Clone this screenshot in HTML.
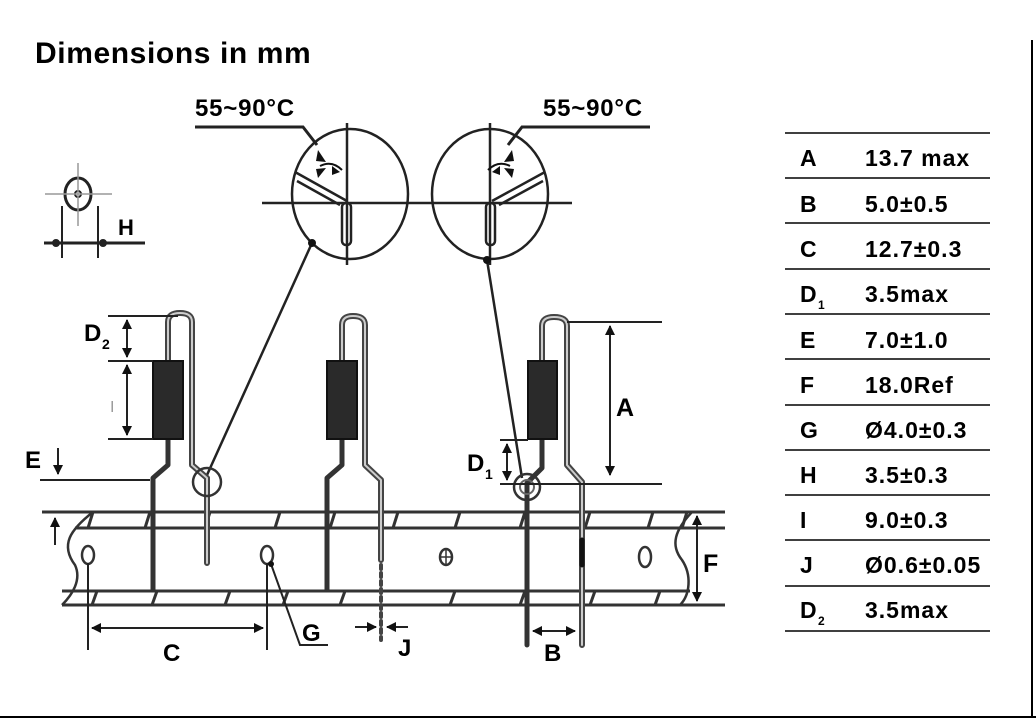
<!DOCTYPE html>
<html><head><meta charset="utf-8"><style>
html,body{margin:0;padding:0;background:#fff;}
svg{display:block}
text{font-family:"Liberation Sans",Arial,sans-serif;font-weight:bold;fill:#000}
</style></head><body>
<svg width="1036" height="720" viewBox="0 0 1036 720" xmlns="http://www.w3.org/2000/svg">
<defs>
<marker id="ar" viewBox="0 0 10 10" refX="9" refY="5" markerWidth="5" markerHeight="5" orient="auto-start-reverse"><path d="M0,0 L10,5 L0,10 z" fill="#111"/></marker>
</defs>
<text x="35" y="63" font-size="30" letter-spacing="0.6">Dimensions in mm</text>
<line x1="1032" y1="40" x2="1032" y2="718" stroke="#000" stroke-width="2"/>
<line x1="0" y1="717" x2="1036" y2="717" stroke="#000" stroke-width="2"/>

<g stroke="#222" fill="none" stroke-width="2">
<ellipse cx="78" cy="194" rx="13" ry="16" stroke-width="3"/>
<circle cx="78" cy="194" r="3"/>
<line x1="45" y1="194" x2="112" y2="194" stroke="#999" stroke-width="1.5"/>
<line x1="78" y1="163" x2="78" y2="226" stroke="#999" stroke-width="1.5"/>
<line x1="62" y1="206" x2="62" y2="258"/>
<line x1="98" y1="206" x2="98" y2="258"/>
<line x1="44" y1="243" x2="145" y2="243" stroke-width="3"/>
<circle cx="56" cy="243" r="3" fill="#222"/><circle cx="103" cy="243" r="3" fill="#222"/>
</g>
<text x="118" y="235" font-size="22">H</text>

<text x="195" y="116" font-size="24" letter-spacing="0.8">55~90°C</text>
<text x="543" y="116" font-size="24" letter-spacing="0.8">55~90°C</text>
<g stroke="#222" fill="none" stroke-width="2.5">
<polyline points="195,127 303,127 317,145" stroke-width="3"/>
<polyline points="650,127 522,127 508,145" stroke-width="3"/>
<ellipse cx="350" cy="194" rx="58" ry="65"/>
<ellipse cx="490" cy="194" rx="58" ry="65"/>
<line x1="262" y1="203" x2="572" y2="203"/>
<line x1="347" y1="123" x2="347" y2="265"/>
<line x1="490" y1="123" x2="490" y2="265"/>
<path d="M295,172 L347,201 M297,181 L340,205" stroke-width="2.5"/>
<rect x="342" y="203" width="9" height="42" rx="4" stroke-width="2.5"/>
<path d="M545,172 L492,201 M543,181 L499,205" stroke-width="2.5"/>
<rect x="486" y="203" width="9" height="42" rx="4" stroke-width="2.5"/>
<line x1="312" y1="243" x2="207" y2="475"/>
<line x1="487" y1="260" x2="522" y2="478"/>
</g>
<g fill="#111">
<circle cx="312" cy="243" r="4"/><circle cx="487" cy="260" r="4"/>
<path d="M318,150 l8,12 -10,-1z"/><path d="M340,172 l-8,-6 0,9z"/><path d="M318,178 l8,-10 -10,1z"/>
<path d="M512,150 l-8,12 10,-1z"/><path d="M492,172 l8,-6 0,9z"/><path d="M512,178 l-8,-10 10,1z"/>
</g>
<g stroke="#111" fill="none" stroke-width="2">
<path d="M320,166 q12,-6 22,4"/><path d="M510,166 q-12,-6 -22,4"/>
</g>

<g stroke="#333" fill="none" stroke-width="3">
<line x1="42" y1="512" x2="725" y2="512"/>
<line x1="75" y1="528" x2="725" y2="528"/>
<line x1="62" y1="591" x2="690" y2="591"/>
<line x1="62" y1="605" x2="725" y2="605"/>
<path d="M93,512 C70,530 60,545 75,565 C82,580 72,595 62,605" stroke-width="2.5"/>
<path d="M692,512 C675,530 670,545 682,560 C692,575 690,595 680,605" stroke-width="2.5"/>
<g stroke-width="3">
<path d="M88,528 l5,-16 M145,528 l5,-16 M205,528 l5,-16 M275,528 l5,-16 M330,528 l5,-16 M393,528 l5,-16 M455,528 l5,-16 M520,528 l5,-16 M585,528 l5,-16 M648,528 l5,-16 M682,528 l5,-16"/>
<path d="M92,605 l5,-14 M152,605 l5,-14 M225,605 l5,-14 M283,605 l5,-14 M340,605 l5,-14 M450,605 l5,-14 M520,605 l5,-14 M590,605 l5,-14 M655,605 l5,-14"/>
</g>
<ellipse cx="88" cy="555" rx="6" ry="9" stroke-width="2.5"/>
<ellipse cx="267" cy="555" rx="6" ry="9" stroke-width="2.5"/>
<ellipse cx="645" cy="557" rx="6" ry="10" stroke-width="2.5"/>
<ellipse cx="446" cy="557" rx="6" ry="8" stroke-width="2.5"/>
<path d="M440,557 h12 M446,550 v14" stroke-width="1.5"/>
</g>
<g stroke="#222" fill="none" stroke-width="2">
<line x1="88" y1="563" x2="88" y2="650"/>
<line x1="267" y1="563" x2="267" y2="650"/>
<line x1="92" y1="628" x2="263" y2="628" marker-start="url(#ar)" marker-end="url(#ar)"/>
<polyline points="271,564 300,645 328,645"/>
</g>
<circle cx="271" cy="564" r="3" fill="#111"/>
<text x="163" y="661" font-size="24">C</text>
<text x="302" y="641" font-size="24">G</text>

<g fill="none" stroke-linecap="round" stroke-linejoin="round">
<path d="M168,361 L168,322 Q168,313 180,313 Q192,313 192,322 L192,465 L207,478 L207,563" stroke="#444" stroke-width="6"/>
<path d="M168,361 L168,322 Q168,313 180,313 Q192,313 192,322 L192,465 L207,478 L207,563" stroke="#ccc" stroke-width="2"/>
<path d="M168,439 L168,465 L153,478 L153,590" stroke="#333" stroke-width="5"/>
<path d="M342,361 L342,325 Q342,316 353,316 Q365,316 365,325 L365,465 L381,480 L381,560" stroke="#444" stroke-width="6"/>
<path d="M342,361 L342,325 Q342,316 353,316 Q365,316 365,325 L365,465 L381,480 L381,560" stroke="#ccc" stroke-width="2"/>
<path d="M342,439 L342,465 L327,478 L327,590" stroke="#333" stroke-width="5"/>
<path d="M381,565 L381,640" stroke="#444" stroke-width="4" stroke-dasharray="4,4"/>
<path d="M542,361 L542,326 Q542,317 554,317 Q567,317 567,326 L567,465 L582,482 L582,645" stroke="#444" stroke-width="6"/>
<path d="M542,361 L542,326 Q542,317 554,317 Q567,317 567,326 L567,465 L582,482 L582,645" stroke="#ccc" stroke-width="2"/>
<path d="M542,439 L542,468 L527,483 L527,645" stroke="#333" stroke-width="5"/>
<line x1="582" y1="540" x2="582" y2="565" stroke="#111" stroke-width="5"/>
</g>
<rect x="153" y="361" width="30" height="78" fill="#2a2a2a" stroke="#111" stroke-width="2"/>
<rect x="327" y="361" width="30" height="78" fill="#2a2a2a" stroke="#111" stroke-width="2"/>
<rect x="528" y="361" width="29" height="78" fill="#2a2a2a" stroke="#111" stroke-width="2"/>
<circle cx="207" cy="482" r="14" fill="none" stroke="#333" stroke-width="2.5"/>
<circle cx="527" cy="487" r="13" fill="none" stroke="#333" stroke-width="2.5"/>
<circle cx="527" cy="487" r="7" fill="none" stroke="#666" stroke-width="2"/>

<g stroke="#222" fill="none" stroke-width="2">
<line x1="108" y1="316" x2="178" y2="316"/>
<line x1="108" y1="361" x2="153" y2="361"/>
<line x1="108" y1="439" x2="153" y2="439"/>
<line x1="127" y1="320" x2="127" y2="357" marker-start="url(#ar)" marker-end="url(#ar)"/>
<line x1="127" y1="365" x2="127" y2="435" marker-start="url(#ar)" marker-end="url(#ar)"/>
<line x1="40" y1="480" x2="150" y2="480"/>
<line x1="58" y1="448" x2="58" y2="474" marker-end="url(#ar)"/>
<line x1="55" y1="545" x2="55" y2="518" marker-end="url(#ar)"/>
</g>
<text x="84" y="341" font-size="24">D</text><text x="102" y="349" font-size="14">2</text>
<text x="110" y="412" font-size="16" style="fill:#999;font-weight:normal">I</text>
<text x="25" y="468" font-size="24">E</text>

<g stroke="#222" fill="none" stroke-width="2">
<line x1="355" y1="627" x2="376" y2="627" marker-end="url(#ar)"/>
<line x1="408" y1="627" x2="387" y2="627" marker-end="url(#ar)"/>
</g>
<text x="398" y="656" font-size="24">J</text>

<g stroke="#222" fill="none" stroke-width="2">
<line x1="567" y1="322" x2="662" y2="322"/>
<line x1="500" y1="484" x2="662" y2="484"/>
<line x1="610" y1="326" x2="610" y2="475" marker-start="url(#ar)" marker-end="url(#ar)"/>
<line x1="500" y1="440" x2="528" y2="440"/>
<line x1="507" y1="444" x2="507" y2="480" marker-start="url(#ar)" marker-end="url(#ar)"/>
<line x1="697" y1="516" x2="697" y2="601" marker-start="url(#ar)" marker-end="url(#ar)"/>
<line x1="533" y1="631" x2="575" y2="631" marker-start="url(#ar)" marker-end="url(#ar)"/>
</g>
<text x="616" y="416" font-size="25">A</text>
<text x="467" y="471" font-size="24">D</text><text x="485" y="479" font-size="14">1</text>
<text x="703" y="572" font-size="25">F</text>
<text x="544" y="661" font-size="24">B</text>

<g stroke="#000" stroke-width="1.5">
<line x1="785" y1="133" x2="990" y2="133"/><line x1="785" y1="178" x2="990" y2="178"/>
<line x1="785" y1="223" x2="990" y2="223"/><line x1="785" y1="269" x2="990" y2="269"/>
<line x1="785" y1="314" x2="990" y2="314"/><line x1="785" y1="359" x2="990" y2="359"/>
<line x1="785" y1="405" x2="990" y2="405"/><line x1="785" y1="450" x2="990" y2="450"/>
<line x1="785" y1="495" x2="990" y2="495"/><line x1="785" y1="540" x2="990" y2="540"/>
<line x1="785" y1="586" x2="990" y2="586"/><line x1="785" y1="631" x2="990" y2="631"/>
</g>
<g font-size="23" letter-spacing="1">
<text x="800" y="166">A</text><text x="865" y="166">13.7 max</text>
<text x="800" y="212">B</text><text x="865" y="212">5.0±0.5</text>
<text x="800" y="257">C</text><text x="865" y="257">12.7±0.3</text>
<text x="800" y="302">D</text><text x="818" y="309" font-size="12">1</text><text x="865" y="302">3.5max</text>
<text x="800" y="348">E</text><text x="865" y="348">7.0±1.0</text>
<text x="800" y="393">F</text><text x="865" y="393">18.0Ref</text>
<text x="800" y="438">G</text><text x="865" y="438">Ø4.0±0.3</text>
<text x="800" y="483">H</text><text x="865" y="483">3.5±0.3</text>
<text x="800" y="528">I</text><text x="865" y="528">9.0±0.3</text>
<text x="800" y="573">J</text><text x="865" y="573">Ø0.6±0.05</text>
<text x="800" y="618">D</text><text x="818" y="625" font-size="12">2</text><text x="865" y="618">3.5max</text>
</g>
</svg>
</body></html>
